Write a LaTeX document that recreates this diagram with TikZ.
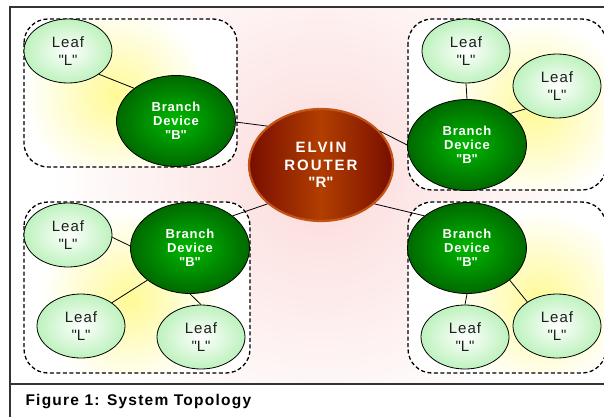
\documentclass[tikz,border=0pt]{standalone}
\usepackage{fontspec}
\setmainfont{Liberation Sans}
\usetikzlibrary{shapes.geometric}

\definecolor{leafedge}{RGB}{190,242,190}
\definecolor{branchlight}{RGB}{0,185,0}
\definecolor{branchdark}{RGB}{0,105,0}
\definecolor{routerdark}{RGB}{120,14,0}
\definecolor{routermid}{RGB}{178,62,0}
\definecolor{routerrim}{RGB}{196,84,20}
\definecolor{pinkglow}{RGB}{252,218,218}
\definecolor{yellowglow}{RGB}{255,250,150}

\newcommand{\qt}[1]{\textquotedbl#1\textquotedbl}

\tikzset{
  leaf/.style={ellipse, draw, line width=0.8pt, minimum width=88, minimum height=64,
    inner sep=0pt, inner color=white, outer color=leafedge, align=center, text=black!88,
    font=\fontsize{15}{18}\selectfont\addfontfeature{LetterSpace=7}},
  branch/.style={ellipse, draw, line width=0.8pt, minimum width=119, minimum height=91,
    inner sep=0pt, inner color=branchlight, outer color=branchdark, align=center, text=white,
    font=\fontsize{13}{14}\selectfont\bfseries\addfontfeature{LetterSpace=6}},
  router/.style={ellipse, draw=routerrim, line width=2.2pt, minimum width=144, minimum height=112,
    inner sep=0pt, left color=routerdark, right color=routerdark, middle color=routermid,
    align=center, text=white,
    font=\fontsize{15}{17.5}\selectfont\bfseries\addfontfeature{LetterSpace=13}},
  grouprim/.style={draw, line width=1.3pt, dash pattern=on 4pt off 2.5pt, rounded corners=24pt},
  link/.style={line width=0.8pt},
  frame/.style={line width=1.2pt, draw=black!80}
}

% one dashed cluster with its yellow glow
\newcommand{\devgroup}[3]{%
  \begin{scope}
    \clip[rounded corners=24pt] #1 rectangle #2;
    \fill[white] #1 rectangle #2;
    \shade[inner color=yellowglow, outer color=white] #3 circle (90);
  \end{scope}
  \draw[grouprim] #1 rectangle #2;}

\begin{document}
\begin{tikzpicture}[x=1pt, y=-1pt]
  \useasboundingbox (0,0) rectangle (604,417);

  % background
  \begin{scope}
    \clip (10,7) rectangle (604,384);
    \shade[inner color=pinkglow, outer color=white] (321,175) circle (270);
  \end{scope}
  \draw[frame] (10,417) -- (10,7) -- (604,7);
  \draw[frame] (10,384) -- (604,384);

  \devgroup{(24,19)}{(237,167)}{(115,95)}
  \devgroup{(408,19)}{(606,190)}{(535,110)}
  \devgroup{(24,202)}{(250,373)}{(130,300)}
  \devgroup{(408,202)}{(606,373)}{(540,300)}

  \node[router] (r) at (321,165) {ELVIN\\ROUTER\\\qt{R}};

  % top left
  \node[branch] (btl) at (176,121) {Branch\\Device\\\qt{B}};
  \node[leaf] (ltl) at (68,51) {Leaf\\\qt{L}};
  % top right
  \node[branch] (btr) at (467,145) {Branch\\Device\\\qt{B}};
  \node[leaf] (ltr1) at (466,51) {Leaf\\\qt{L}};
  \node[leaf] (ltr2) at (557,86) {Leaf\\\qt{L}};
  % bottom left
  \node[branch] (bbl) at (190,248) {Branch\\Device\\\qt{B}};
  \node[leaf] (lbl1) at (68,235) {Leaf\\\qt{L}};
  \node[leaf] (lbl2) at (81,326) {Leaf\\\qt{L}};
  \node[leaf] (lbl3) at (201,337) {Leaf\\\qt{L}};
  % bottom right
  \node[branch] (bbr) at (467,248) {Branch\\Device\\\qt{B}};
  \node[leaf] (lbr1) at (465,337) {Leaf\\\qt{L}};
  \node[leaf] (lbr2) at (557,326) {Leaf\\\qt{L}};

  \draw[link] (r.144) -- (btl.-1);
  \draw[link] (r.30) -- (btr.180);
  \draw[link] (r.216) -- (bbl.37);
  \draw[link] (r.-36) -- (bbr.143);

  \draw[link] (ltl.-37) -- (btl.142);
  \draw[link] (ltr1.south) -- (btr.north);
  \draw[link] (ltr2.216) -- (btr.36);
  \draw[link] (lbl1.-3) -- (bbl.178);
  \draw[link] (lbl2.37) -- (bbl.217);
  \draw[link] (lbl3.north) -- (bbl.south);
  \draw[link] (lbr1.north) -- (bbr.south);
  \draw[link] (lbr2.141) -- (bbr.-37);

  \node[anchor=base west, font=\fontsize{15.5}{18}\selectfont\bfseries\addfontfeature{LetterSpace=8}]
    (cap) at (22,405) {Figure 1: System Topology};
\end{tikzpicture}
\end{document}
